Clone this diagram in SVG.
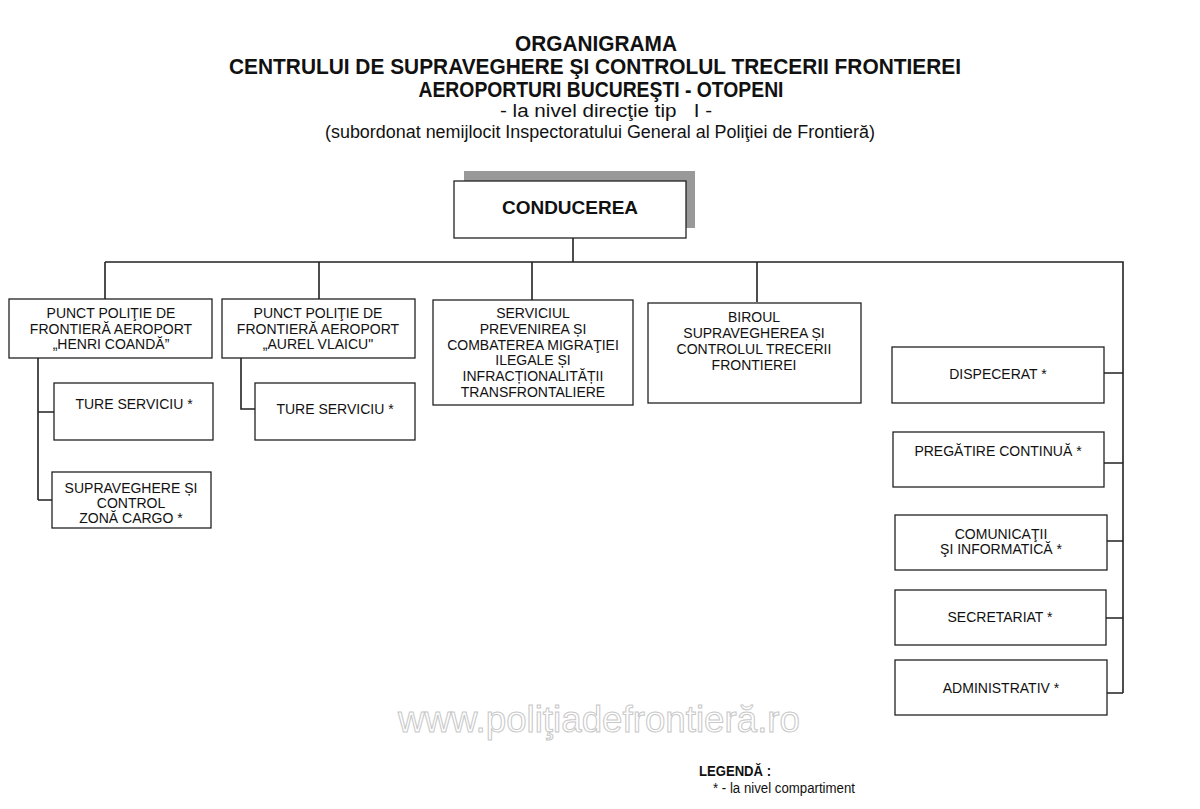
<svg xmlns="http://www.w3.org/2000/svg" width="1200" height="809" viewBox="0 0 1200 809">
<style>
.box{fill:#fff;stroke:#222;stroke-width:1.3}
.ln{fill:none;stroke:#222;stroke-width:1.6}
.t{font-family:"Liberation Sans",Arial,sans-serif;font-size:14px;fill:#111;text-anchor:middle}
.h{font-family:"Liberation Sans",Arial,sans-serif;font-weight:bold;fill:#111;text-anchor:middle}
.s{font-family:"Liberation Sans",Arial,sans-serif;fill:#111;text-anchor:middle}
</style>
<rect width="1200" height="809" fill="#fff"/>
<g id="title">
<text class="h" x="596" y="51" font-size="21.5" textLength="162" lengthAdjust="spacingAndGlyphs">ORGANIGRAMA</text>
<text class="h" x="595" y="74" font-size="21.5" textLength="732" lengthAdjust="spacingAndGlyphs">CENTRULUI DE SUPRAVEGHERE ŞI CONTROLUL TRECERII FRONTIEREI</text>
<text class="h" x="601" y="97" font-size="21.5" textLength="365" lengthAdjust="spacingAndGlyphs">AEROPORTURI BUCUREŞTI - OTOPENI</text>
<text class="s" x="606" y="117" font-size="17.5" textLength="212" lengthAdjust="spacingAndGlyphs" xml:space="preserve">- la nivel direcţie tip   I -</text>
<text class="s" x="600" y="138" font-size="17.5" textLength="550" lengthAdjust="spacingAndGlyphs">(subordonat nemijlocit Inspectoratului General al Poliţiei de Frontieră)</text>
</g>
<g id="watermark">
<text x="599" y="732" font-family="Liberation Sans,Arial,sans-serif" font-size="36" fill="#fff" stroke="#c8c8c8" stroke-width="1" text-anchor="middle" textLength="402" lengthAdjust="spacingAndGlyphs">www.poliţiadefrontieră.ro</text>
</g>
<g id="connectors">
<path class="ln" d="M573 238V262M105 262H1123V693M105 262V299M319 262V299M532 262V300M757 262V302"/>
<path class="ln" d="M38 358V500M38 412H54M38 500H52"/>
<path class="ln" d="M241 358V409H255"/>
<path class="ln" d="M1104 373H1123M1104 463H1123M1107 541H1123M1106 618H1123M1107 693H1123"/>
</g>
<g id="conducerea">
<rect x="464" y="171" width="231" height="57" fill="#999"/>
<rect class="box" x="454" y="181" width="232" height="57"/>
<text class="h" x="570" y="214" font-size="19">CONDUCEREA</text>
</g>
<g id="henri">
<rect class="box" x="9" y="299" width="203" height="59"/>
<text class="t" x="111" y="318">PUNCT POLIŢIE DE</text>
<text class="t" x="111" y="334">FRONTIERĂ AEROPORT</text>
<text class="t" x="111" y="349">„HENRI COANDĂ”</text>
</g>
<g id="aurel">
<rect class="box" x="222" y="299" width="193" height="59"/>
<text class="t" x="318" y="318">PUNCT POLIŢIE DE</text>
<text class="t" x="318" y="334">FRONTIERĂ AEROPORT</text>
<text class="t" x="318" y="349">„AUREL VLAICU"</text>
</g>
<g id="ture1">
<rect class="box" x="54" y="383" width="159" height="57"/>
<text class="t" x="134" y="409">TURE SERVICIU *</text>
</g>
<g id="cargo">
<rect class="box" x="52" y="472" width="159" height="56"/>
<text class="t" x="131" y="493">SUPRAVEGHERE ȘI</text>
<text class="t" x="131" y="508">CONTROL</text>
<text class="t" x="131" y="523">ZONĂ CARGO *</text>
</g>
<g id="ture2">
<rect class="box" x="255" y="383" width="160" height="57"/>
<text class="t" x="335" y="414">TURE SERVICIU *</text>
</g>
<g id="serviciul">
<rect class="box" x="433" y="300" width="200" height="105"/>
<text class="t" x="533" y="318">SERVICIUL</text>
<text class="t" x="533" y="333.8">PREVENIREA ȘI</text>
<text class="t" x="533" y="349.6">COMBATEREA MIGRAŢIEI</text>
<text class="t" x="533" y="365.4">ILEGALE ȘI</text>
<text class="t" x="533" y="381.2">INFRACȚIONALITĂȚII</text>
<text class="t" x="533" y="397">TRANSFRONTALIERE</text>
</g>
<g id="biroul">
<rect class="box" x="648" y="303" width="213" height="100"/>
<text class="t" x="754" y="322">BIROUL</text>
<text class="t" x="754" y="338">SUPRAVEGHEREA ȘI</text>
<text class="t" x="754" y="354">CONTROLUL TRECERII</text>
<text class="t" x="754" y="370">FRONTIEREI</text>
</g>
<g id="dispecerat">
<rect class="box" x="892" y="347" width="212" height="56"/>
<text class="t" x="998" y="379">DISPECERAT *</text>
</g>
<g id="pregatire">
<rect class="box" x="893" y="432" width="211" height="55"/>
<text class="t" x="998" y="456">PREGĂTIRE CONTINUĂ *</text>
</g>
<g id="comunicatii">
<rect class="box" x="895" y="515" width="212" height="55"/>
<text class="t" x="1001" y="539">COMUNICAŢII</text>
<text class="t" x="1001" y="554">ŞI INFORMATICĂ *</text>
</g>
<g id="secretariat">
<rect class="box" x="895" y="590" width="211" height="55"/>
<text class="t" x="1000" y="622">SECRETARIAT *</text>
</g>
<g id="administrativ">
<rect class="box" x="895" y="660" width="212" height="55"/>
<text class="t" x="1001" y="693">ADMINISTRATIV *</text>
</g>
<g id="legend">
<text x="699" y="776" font-family="Liberation Sans,Arial,sans-serif" font-weight="bold" font-size="15" fill="#111" textLength="72" lengthAdjust="spacingAndGlyphs">LEGENDĂ :</text>
<text x="713" y="793" font-family="Liberation Sans,Arial,sans-serif" font-size="14" fill="#111" textLength="142" lengthAdjust="spacingAndGlyphs">* - la nivel compartiment</text>
</g>
</svg>
